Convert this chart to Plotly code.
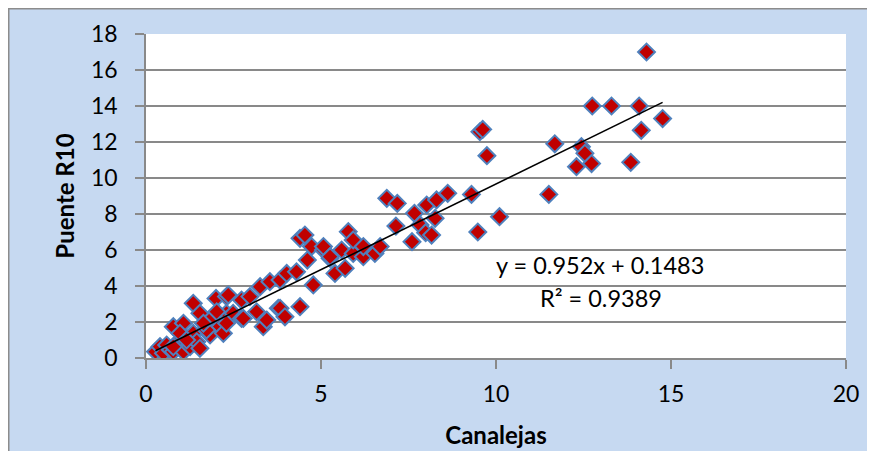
import plotly.graph_objects as go

# Data
canalejas = [0.27, 0.40, 0.50, 0.59, 0.70, 0.78, 0.78, 0.90, 0.97, 1.07, 1.07, 1.15, 1.26,
             1.35, 1.35, 1.45, 1.54, 1.54, 1.70, 1.83, 1.83, 2.00, 2.11, 2.21, 2.30, 2.30,
             2.35, 2.49, 2.73, 2.73, 2.78, 2.97, 3.16, 3.26, 3.35, 3.45, 3.54, 3.78, 3.83,
             3.83, 3.97, 4.02, 4.30, 4.40, 4.40, 4.54, 4.61, 4.73, 4.78, 5.07, 5.07, 5.26,
             5.26, 5.40, 5.59, 5.69, 5.78, 5.92, 5.92, 6.21, 6.21, 6.54, 6.69, 6.88, 7.14,
             7.18, 7.60, 7.67, 7.83, 7.99, 8.02, 8.16, 8.26, 8.30, 8.62, 9.30, 9.48, 9.54,
             9.62, 9.74, 10.10, 11.51, 11.68, 12.30, 12.44, 12.54, 12.73, 12.75, 13.30,
             13.85, 14.09, 14.15, 14.30, 14.76,
             0.97, 1.16, 0.78, 1.73, 1.64, 2.30, 2.02]
puente_r10 = [0.35, 0.63, 0.26, 0.72, 0.45, 0.35, 1.74, 0.80, 1.00, 0.35, 1.93, 1.10, 0.63,
              1.37, 3.04, 0.90, 0.54, 2.48, 1.60, 1.28, 2.11, 3.31, 1.74, 1.37, 2.48, 3.41,
              3.50, 2.48, 2.20, 3.22, 2.20, 3.41, 2.57, 3.96, 1.74, 2.11, 4.24, 2.76, 2.76,
              4.33, 2.29, 4.70, 4.79, 2.85, 6.65, 6.83, 5.44, 6.19, 4.06, 6.00, 6.19, 5.54,
              5.63, 4.70, 6.00, 4.98, 7.02, 5.81, 6.56, 5.63, 6.19, 5.81, 6.19, 8.87, 7.33,
              8.59, 6.46, 8.04, 7.39, 6.96, 8.50, 6.83, 7.76, 8.78, 9.15, 9.09, 7.00, 12.57,
              12.70, 11.24, 7.85, 9.09, 11.90, 10.63, 11.74, 11.37, 10.80, 14.00, 14.00,
              10.87, 14.00, 12.65, 17.00, 13.30,
              1.37, 1.00, 0.63, 1.56, 1.93, 1.93, 2.57]

trend_slope = 0.952
trend_intercept = 0.1483
equation_text = "y = 0.952x + 0.1483"
r2_text = "R² = 0.9389"
x_title = "Canalejas"
y_title = "Puente R10"

bg_blue = "#C6D9F1"
grid_gray = "#898989"
font_family = "Lato, Carlito, Calibri, sans-serif"

x_min, x_max = min(canalejas), max(canalejas)
trend_x = [x_min, x_max]
trend_y = [trend_slope * v + trend_intercept for v in trend_x]

fig = go.Figure()
fig.add_trace(go.Scatter(
    x=canalejas, y=puente_r10, mode="markers",
    marker=dict(symbol="diamond", size=13, color="#C00000",
                line=dict(color="#4F81BD", width=2)),
    showlegend=False, hoverinfo="skip"))
fig.add_trace(go.Scatter(
    x=trend_x, y=trend_y, mode="lines",
    line=dict(color="black", width=1.6), showlegend=False, hoverinfo="skip"))

fig.add_annotation(x=12.96, y=5.17, xref="x", yref="y", text=equation_text,
                   showarrow=False, font=dict(size=23.5, color="black", family=font_family))
fig.add_annotation(x=13.0, y=3.33, xref="x", yref="y", text=r2_text,
                   showarrow=False, font=dict(size=23.5, color="black", family=font_family))

# figure pixel geometry (page body adds an 8px offset)
L, T, B, W, H = 138, 26, 350, 700, 324
def px_to_paper_x(px):
    return (px - L) / W
def px_to_paper_y(py):
    return (B - py) / H

# gray frame of the chart area (left / top edges visible)
fig.add_shape(type="rect", xref="paper", yref="paper",
              x0=px_to_paper_x(0.75), x1=px_to_paper_x(1000),
              y0=px_to_paper_y(1000), y1=px_to_paper_y(0.75),
              fillcolor="rgba(0,0,0,0)", line=dict(color="#8C8C8C", width=1.5), layer="below")

fig.update_layout(
    width=875, height=451,
    margin=dict(l=L, r=875 - L - W, t=T, b=451 - B),
    paper_bgcolor=bg_blue, plot_bgcolor="white",
    font=dict(family=font_family, size=23, color="black"),
    xaxis=dict(range=[0, 20], dtick=5, showgrid=False, zeroline=False,
               showline=True, linecolor=grid_gray, linewidth=1.5,
               ticks="outside", ticklen=9, tickcolor=grid_gray, tickwidth=1.5,
               ticklabelstandoff=6,
               title=dict(text="<b>" + x_title + "</b>", font=dict(size=24), standoff=21)),
    yaxis=dict(range=[0, 18], dtick=2, showgrid=True, gridcolor=grid_gray, gridwidth=1.5,
               zeroline=False, showline=True, linecolor=grid_gray, linewidth=1.5,
               ticks="outside", ticklen=9, tickcolor=grid_gray, tickwidth=1.5,
               ticklabelstandoff=13,
               title=dict(text="<b>" + y_title + "</b>", font=dict(size=24), standoff=10)),
)

fig.write_html("out.html")
